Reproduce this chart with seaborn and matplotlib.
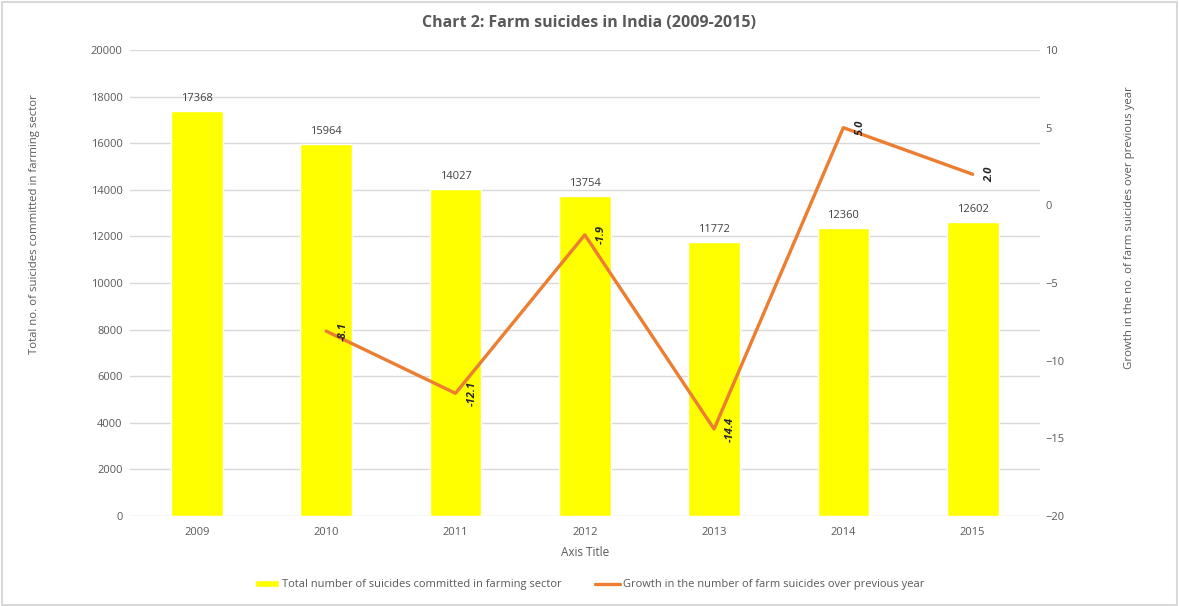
import numpy as np
import pandas as pd
import seaborn as sns
import matplotlib.pyplot as plt

years = ["2009", "2010", "2011", "2012", "2013", "2014", "2015"]
total_suicides = [17368, 15964, 14027, 13754, 11772, 12360, 12602]
growth_years = ["2010", "2011", "2012", "2013", "2014", "2015"]
growth_pct = [-8.1, -12.1, -1.9, -14.4, 5.0, 2.0]

bar_label = "Total number of suicides committed in farming sector"
line_label = "Growth in the number of farm suicides over previous year"

sns.set_style("white")
plt.rcParams["font.family"] = ["Open Sans", "DejaVu Sans"]
txt = "#595959"

df = pd.DataFrame({"year": years, "total": total_suicides})
gdf = pd.DataFrame({"pos": [years.index(y) for y in growth_years], "growth": growth_pct})

fig = plt.figure(figsize=(11.79, 6.06), dpi=100)
ax = fig.add_axes([0.110, 0.1485, 0.772, 0.769])
sns.barplot(data=df, x="year", y="total", color="#FFFF00", width=0.4,
            saturation=1, ax=ax, label=bar_label)
ax.set_ylim(0, 20000)
ax.set_yticks(np.arange(0, 20001, 2000))
ax.yaxis.grid(True, color="#d9d9d9", lw=1)
ax.set_axisbelow(True)
sns.despine(ax=ax, left=True, bottom=True)
ax.tick_params(axis="x", length=0, labelsize=8, labelcolor=txt, pad=8)
ax.tick_params(axis="y", length=0, labelsize=8, labelcolor=txt, pad=5)
ax.set_xlabel("Axis Title", fontsize=8.5, color=txt, labelpad=6)
ax.set_ylabel("Total no. of suicides committed in farming sector", fontsize=8.2,
              color=txt)
ax.yaxis.set_label_coords(-0.099, 0.627)
for p, v in zip(ax.patches, total_suicides):
    ax.annotate(str(v), (p.get_x() + p.get_width() / 2, p.get_height()),
                xytext=(0, 5), textcoords="offset points", ha="center",
                va="bottom", fontsize=8, color="#404040")

ax2 = ax.twinx()
sns.lineplot(data=gdf, x="pos", y="growth", color="#ED7D31", lw=2.4, ax=ax2,
             label=line_label, legend=False)
ax2.set_ylim(-20, 10)
ax2.set_yticks(np.arange(-20, 11, 5))
ax2.set_xlim(ax.get_xlim())
sns.despine(ax=ax2, left=True, bottom=True, right=True)
ax2.tick_params(axis="y", length=0, labelsize=8, labelcolor=txt, pad=4)
ax2.set_ylabel("Growth in the no. of farm suicides over previous year", fontsize=8.2,
               color=txt, rotation=90)
ax2.yaxis.set_label_coords(1.092, 0.618)
for x, v in zip(gdf["pos"], growth_pct):
    ax2.annotate(f"{v:.1f}", (x, v), xytext=(12, 0), textcoords="offset points",
                 rotation=90, ha="center", va="center", fontsize=8,
                 fontweight="bold", fontstyle="italic", color="#262626")

h1, l1 = ax.get_legend_handles_labels()
h2, l2 = ax2.get_legend_handles_labels()
if ax.get_legend() is not None:
    ax.get_legend().remove()
fig.legend(h1 + h2, l1 + l2, loc="center", bbox_to_anchor=(0.5, 0.035), ncol=2,
           frameon=False, fontsize=8, labelcolor=txt, handlelength=2.2,
           handleheight=0.6, columnspacing=3, handletextpad=0.3)

fig.suptitle("Chart 2: Farm suicides in India (2009-2015)", y=0.975, fontsize=11.5,
             fontweight="bold", color=txt)
fig.patches.append(plt.Rectangle((0.002, 0.002), 0.996, 0.995, transform=fig.transFigure,
                                 fill=False, ec="#d9d9d9", lw=1.5))
fig.savefig("out.png", dpi=100)
